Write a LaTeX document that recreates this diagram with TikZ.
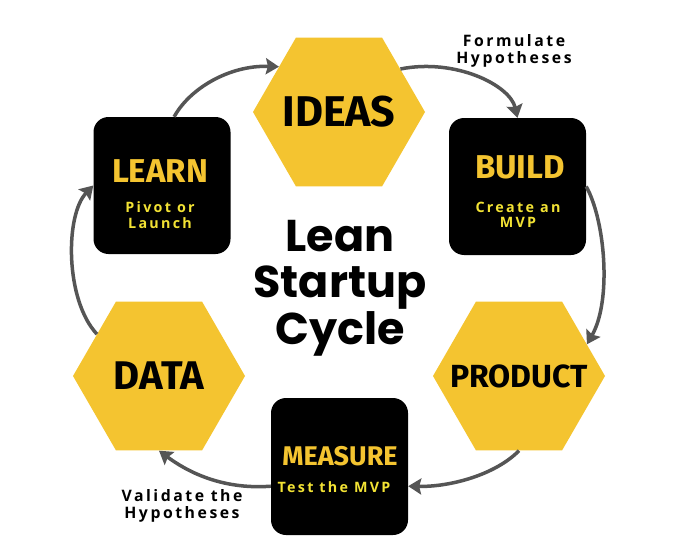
\documentclass[tikz,border=0pt]{standalone}
\usepackage{fontspec}
\usepackage{xcolor}
\usetikzlibrary{arrows.meta,shapes.geometric}

\newfontfamily\notefont{Open Sans}[LetterSpace=16]
\newfontfamily\titlefont{Poppins}
\IfFontExistsTF{FiraSans-Black.otf}
  {\newfontfamily\headfont{FiraSans-Black.otf}}
  {\IfFontExistsTF{FiraSans-ExtraBold.otf}
    {\newfontfamily\headfont{FiraSans-ExtraBold.otf}}
    {\newfontfamily\headfontfam{Fira Sans}\newcommand\headfont{\headfontfam\bfseries}}}

\definecolor{leanyellow}{HTML}{F4C430}
\definecolor{sublemon}{HTML}{F2E234}
\definecolor{arrowgray}{HTML}{555555}

\begin{document}
\begin{tikzpicture}[x=1pt,y=-1pt,
    hexa/.style={regular polygon, regular polygon sides=6, fill=leanyellow,
      minimum size=172pt, inner sep=0pt},
    blackbox/.style={fill=black, rounded corners=15pt, minimum size=137pt, inner sep=0pt},
    boxtitle/.style={text=leanyellow, inner sep=0pt},
    boxsub/.style={text=sublemon, align=center, inner sep=0pt,
      font=\notefont\bfseries\fontsize{14.3}{15.5}\selectfont},
    note/.style={align=center, inner sep=0pt,
      font=\notefont\bfseries\fontsize{15.8}{16.5}\selectfont},
    cycle/.style={draw=arrowgray, line width=3.5pt,
      -{Stealth[length=13pt,width=16pt,inset=2pt]}}]
  \fill[white] (0,0) rectangle (683,543);

  % the six stages
  \node[hexa, label={[font=\headfont\fontsize{43}{43}\selectfont]center:IDEAS}] (ideas) at (339,112) {};
  \node[blackbox] (build) at (517.5,186.5) {};
  \node[hexa, label={[font=\headfont\fontsize{32}{32}\selectfont]center:PRODUCT}] (product) at (519,376) {};
  \node[blackbox] (measure) at (339.5,466.5) {};
  \node[hexa, label={[font=\headfont\fontsize{40}{40}\selectfont]center:DATA}] (data) at (159,376) {};
  \node[blackbox] (learn) at (162,185.5) {};

  \node[boxtitle, font=\headfont\fontsize{33}{33}\selectfont] (buildtitle) at (520,167) {BUILD};
  \node[boxsub] (buildsub) at (518,215) {Create an\\MVP};
  \node[boxtitle, font=\headfont\fontsize{27}{27}\selectfont] (measuretitle) at (340,456) {MEASURE};
  \node[boxsub] (measuresub) at (334,487) {Test the MVP};
  \node[boxtitle, font=\headfont\fontsize{33}{33}\selectfont] (learntitle) at (160,171) {LEARN};
  \node[boxsub] (learnsub) at (160,215) {Pivot or\\Launch};

  \node[align=center, font=\titlefont\bfseries\fontsize{44.5}{46.5}\selectfont] (cycletitle)
    at (340,288) {Lean\\Startup\\Cycle};

  \node[note] (formulate) at (514,51) {Formulate\\Hypotheses};
  \node[note] (validate) at (182,506) {Validate the\\Hypotheses};

  % arrows round the cycle
  \draw[cycle] (learn.80) .. controls (190,88) and (230,65) .. (ideas.143);
  \draw[cycle] (ideas.35) .. controls (455,58) and (510,85) .. (build.north);
  \draw[cycle] (build.east) .. controls (605,220) and (612,300) .. (product.25);
  \draw[cycle] (product.south) .. controls (495,475) and (450,487) .. (measure.-16);
  \draw[cycle] (measure.-164) .. controls (220,490) and (185,470) .. (data.south);
  \draw[cycle] (data.146) .. controls (65,300) and (65,215) .. (learn.west);
\end{tikzpicture}
\end{document}
